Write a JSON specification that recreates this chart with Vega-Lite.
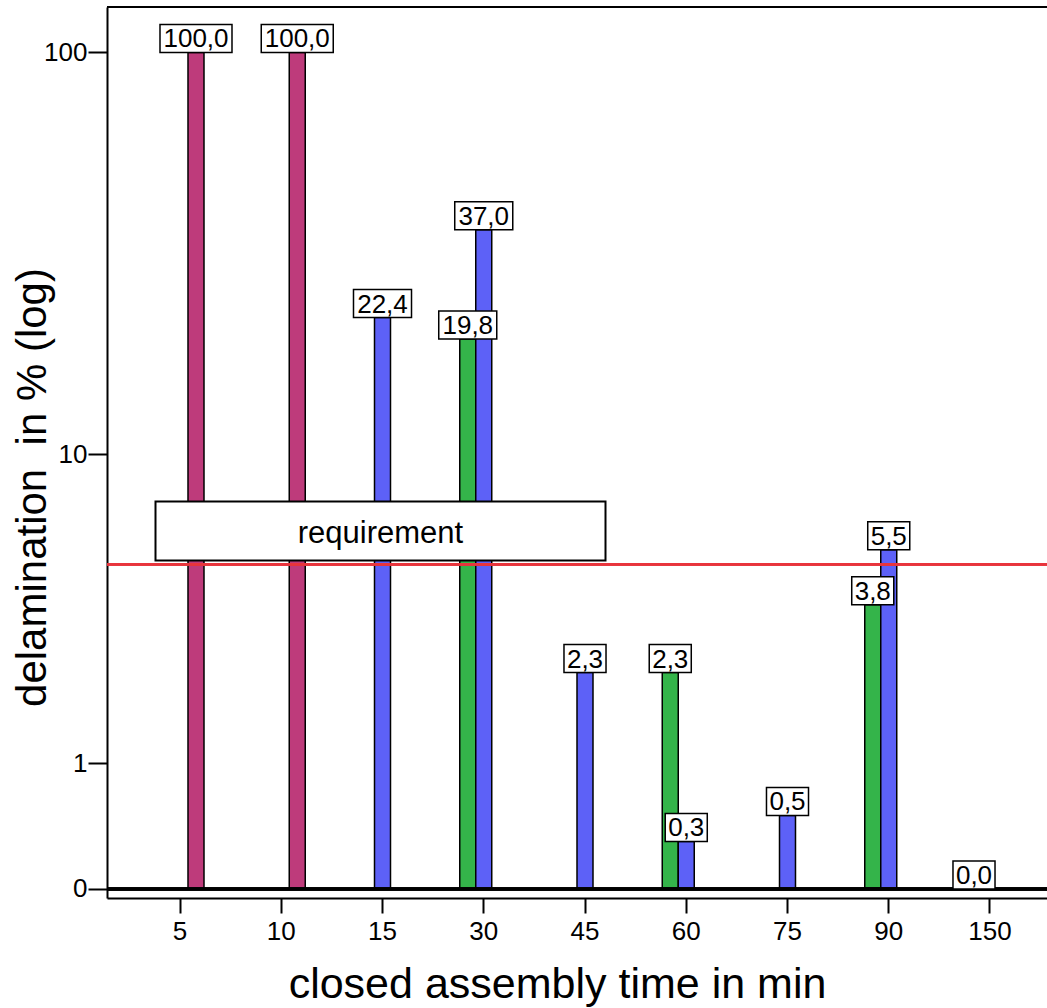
{
  "$schema": "https://vega.github.io/schema/vega-lite/v6.json",
  "width": 940,
  "height": 891,
  "autosize": {"type": "none"},
  "padding": {"left": 107, "top": 7, "right": 0, "bottom": 110},
  "config": {
    "font": "Liberation Sans",
    "view": {"stroke": null},
    "locale": {"number": {"decimal": ",", "thousands": ".", "grouping": [3], "currency": ["", ""]}}
  },
  "datasets": {
    "bars": [
      {"time": 5, "group": "3", "value": 100.0},
      {"time": 10, "group": "3", "value": 100.0},
      {"time": 15, "group": "2", "value": 22.4},
      {"time": 30, "group": "1", "value": 19.8},
      {"time": 30, "group": "2", "value": 37.0},
      {"time": 45, "group": "2", "value": 2.3},
      {"time": 60, "group": "1", "value": 2.3},
      {"time": 60, "group": "2", "value": 0.3},
      {"time": 75, "group": "2", "value": 0.5},
      {"time": 90, "group": "1", "value": 3.8},
      {"time": 90, "group": "2", "value": 5.5},
      {"time": 150, "group": "1", "value": 0.0}
    ],
    "req": [
      {"time": 15, "value": 6.21, "label": "requirement"}
    ]
  },
  "encoding": {
    "x": {
      "field": "time", "type": "ordinal",
      "scale": {"domain": [5, 10, 15, 30, 45, 60, 75, 90, 150], "range": [0, 956], "paddingInner": 0.526, "paddingOuter": 0.484},
      "axis": {
        "title": "closed assembly time in min",
        "titleFontSize": 43, "titleFontWeight": "normal", "titleColor": "black",
        "titleBaseline": "alphabetic", "titleX": 450, "titleY": 99,
        "labelFontSize": 26, "labelColor": "black", "labelAngle": 0, "labelPadding": 5,
        "domainColor": "black", "domainWidth": 2,
        "tickColor": "black", "tickWidth": 2, "tickSize": 15,
        "grid": false
      }
    },
    "y": {
      "field": "value", "type": "quantitative",
      "scale": {"type": "symlog", "constant": 1, "domain": [-0.051, 128.8], "nice": false, "zero": false},
      "axis": {
        "title": "delamination\u00a0 in % (log)",
        "values": [0, 1, 10, 100], "format": "d",
        "titleFontSize": 42, "titleFontWeight": "normal", "titleColor": "black",
        "titleBaseline": "alphabetic", "titleX": -62, "titleY": 480, "titleAngle": 270,
        "labelFontSize": 26, "labelColor": "black", "labelPadding": 1,
        "domainColor": "black", "domainWidth": 2,
        "tickColor": "black", "tickWidth": 2, "tickSize": 19,
        "grid": false
      }
    }
  },
  "layer": [
    {
      "data": {"name": "bars"},
      "mark": {"type": "bar", "stroke": "black", "strokeWidth": 1.5},
      "encoding": {
        "xOffset": {"field": "group", "type": "nominal", "scale": {"domain": ["1", "2", "3"], "paddingInner": 0, "paddingOuter": 0}},
        "y2": {"datum": 0},
        "color": {"field": "group", "type": "nominal", "scale": {"domain": ["1", "2", "3"], "range": ["#34B44A", "#5D61F7", "#BE3B7B"]}, "legend": null}
      }
    },
    {
      "data": {"name": "bars"},
      "mark": {"type": "rule", "color": "#E8343C", "strokeWidth": 2},
      "encoding": {"x": null, "y": {"datum": 5}}
    },
    {
      "data": {"name": "bars"},
      "mark": {"type": "rule", "color": "black", "strokeWidth": 2.5},
      "encoding": {"x": null, "y": {"datum": 0}}
    },
    {
      "data": {"name": "bars"},
      "mark": {"type": "rule", "color": "black", "strokeWidth": 2},
      "encoding": {"x": null, "y": {"datum": 128.8}}
    },
    {
      "data": {"name": "bars"},
      "mark": {"type": "point", "filled": true, "fill": "white", "stroke": "black", "strokeWidth": 1.5, "opacity": 1, "size": 5476},
      "encoding": {
        "xOffset": {"field": "group", "type": "nominal", "scale": {"domain": ["1", "2", "3"], "paddingInner": 0, "paddingOuter": 0}},
        "shape": {
          "condition": [
            {"test": "datum.value >= 100", "value": "M-0.973,-0.757H0.973V0H-0.973Z"},
            {"test": "datum.value >= 10", "value": "M-0.784,-0.757H0.784V0H-0.784Z"}
          ],
          "value": "M-0.568,-0.757H0.568V0H-0.568Z"
        }
      }
    },
    {
      "data": {"name": "bars"},
      "mark": {"type": "text", "fontSize": 26, "color": "black", "baseline": "middle", "align": "center", "dy": -13},
      "encoding": {
        "xOffset": {"field": "group", "type": "nominal", "scale": {"domain": ["1", "2", "3"], "paddingInner": 0, "paddingOuter": 0}},
        "text": {"field": "value", "type": "quantitative", "format": ".1f"}
      }
    },
    {
      "data": {"name": "req"},
      "mark": {"type": "point", "filled": true, "fill": "white", "stroke": "black", "strokeWidth": 2, "opacity": 1, "size": 202500, "shape": "M-1,-0.131H1V0.131H-1Z", "xOffset": -2}
    },
    {
      "data": {"name": "req"},
      "mark": {"type": "text", "fontSize": 31, "color": "black", "baseline": "middle", "align": "center", "xOffset": -2, "dy": 3},
      "encoding": {"text": {"field": "label"}}
    }
  ]
}
